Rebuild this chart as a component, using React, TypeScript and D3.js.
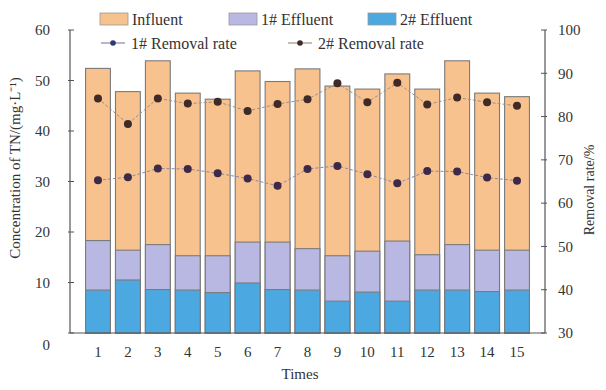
import React, { useRef, useEffect } from "react";
import * as d3 from "d3";

const times = ["1", "2", "3", "4", "5", "6", "7", "8", "9", "10", "11", "12", "13", "14", "15"];
const influent = [52.4, 47.8, 53.9, 47.5, 46.3, 51.9, 49.8, 52.3, 48.9, 48.3, 51.3, 48.3, 53.9, 47.5, 46.8];
const effluent1 = [18.3, 16.4, 17.5, 15.3, 15.3, 18.0, 18.0, 16.7, 15.3, 16.2, 18.2, 15.5, 17.5, 16.4, 16.4];
const effluent2 = [8.5, 10.5, 8.6, 8.5, 8.0, 9.9, 8.6, 8.5, 6.3, 8.1, 6.3, 8.5, 8.5, 8.2, 8.5];
const removal1 = [65.3, 66.0, 68.0, 67.9, 66.9, 65.7, 64.0, 67.9, 68.6, 66.7, 64.6, 67.4, 67.3, 65.9, 65.2];
const removal2 = [84.2, 78.3, 84.2, 83.0, 83.4, 81.3, 82.9, 84.0, 87.7, 83.3, 87.8, 82.8, 84.4, 83.3, 82.5];
const leftTicks = [0, 10, 20, 30, 40, 50, 60];
const rightTicks = [30, 40, 50, 60, 70, 80, 90, 100];

const W = 606;
const H = 390;
const FONT = "'Liberation Serif', 'Times New Roman', serif";

const App = () => {
  const ref = useRef<SVGSVGElement>(null);

  useEffect(() => {
    const svg = d3.select(ref.current);
    svg.selectAll("*").remove();

    const left = 70, right = 545, top = 30, bottom = 333;

    const x = d3.scaleBand().domain(times).range([left, right]).paddingInner(0.17).paddingOuter(0.52);
    const y = d3.scaleLinear().domain([0, 60]).range([bottom, top]);
    const y2 = d3.scaleLinear().domain([30, 100]).range([bottom, top]);

    const series = [
      { name: "Influent", values: influent, color: "#F8C28E" },
      { name: "1# Effluent", values: effluent1, color: "#B9B8E2" },
      { name: "2# Effluent", values: effluent2, color: "#4CA8E0" },
    ];

    // overlapping bars, tallest first
    series.forEach((s) => {
      svg
        .append("g")
        .selectAll("rect")
        .data(s.values)
        .join("rect")
        .attr("x", (_d, i) => x(times[i])!)
        .attr("y", (d) => y(d))
        .attr("width", x.bandwidth())
        .attr("height", (d) => y(0) - y(d))
        .attr("fill", s.color)
        .attr("stroke", "#7a7a7a")
        .attr("stroke-width", 1.1);
    });

    // removal rate lines
    const lines = [
      { values: removal2, line: "#9a8f8a", dot: "#3e2a26" },
      { values: removal1, line: "#8c86a8", dot: "#3c2a48" },
    ];
    lines.forEach((l) => {
      const gen = d3
        .line<number>()
        .x((_d, i) => x(times[i])! + x.bandwidth() / 2)
        .y((d) => y2(d));
      svg
        .append("path")
        .attr("d", gen(l.values))
        .attr("fill", "none")
        .attr("stroke", l.line)
        .attr("stroke-width", 1)
        .attr("stroke-dasharray", "3,2");
      svg
        .append("g")
        .selectAll("circle")
        .data(l.values)
        .join("circle")
        .attr("cx", (_d, i) => x(times[i])! + x.bandwidth() / 2)
        .attr("cy", (d) => y2(d))
        .attr("r", 4)
        .attr("fill", l.dot);
    });

    const axisColor = "#555";

    // x axis line
    svg.append("line").attr("x1", left).attr("x2", right).attr("y1", bottom).attr("y2", bottom)
      .attr("stroke", axisColor).attr("stroke-width", 1.2);

    // left axis
    svg.append("line").attr("x1", left).attr("x2", left).attr("y1", top).attr("y2", bottom)
      .attr("stroke", axisColor).attr("stroke-width", 1.2);
    const gl = svg.append("g");
    gl.selectAll("line").data(leftTicks).join("line")
      .attr("x1", left - 2).attr("x2", left + 4).attr("y1", (d) => y(d)).attr("y2", (d) => y(d))
      .attr("stroke", axisColor);
    gl.selectAll("text").data(leftTicks).join("text")
      .attr("x", 50)
      .attr("y", (d) => (d === 0 ? y(d) + 12 : y(d)))
      .attr("dy", "0.35em")
      .attr("text-anchor", "end")
      .attr("font-family", FONT).attr("font-size", 15).attr("fill", "#333")
      .text((d) => d);

    // right axis
    svg.append("line").attr("x1", right).attr("x2", right).attr("y1", top).attr("y2", bottom)
      .attr("stroke", axisColor).attr("stroke-width", 1.2);
    const gr = svg.append("g");
    gr.selectAll("line").data(rightTicks).join("line")
      .attr("x1", right - 4).attr("x2", right + 2).attr("y1", (d) => y2(d)).attr("y2", (d) => y2(d))
      .attr("stroke", axisColor);
    gr.selectAll("text").data(rightTicks).join("text")
      .attr("x", 558)
      .attr("y", (d) => y2(d))
      .attr("dy", "0.35em")
      .attr("font-family", FONT).attr("font-size", 15).attr("fill", "#333")
      .text((d) => d);

    // x tick labels
    svg.append("g").selectAll("text").data(times).join("text")
      .attr("x", (d) => x(d)! + x.bandwidth() / 2)
      .attr("y", 352)
      .attr("dy", "0.35em")
      .attr("text-anchor", "middle")
      .attr("font-family", FONT).attr("font-size", 15).attr("fill", "#333")
      .text((d) => d);

    // axis titles
    svg.append("text")
      .attr("x", 300).attr("y", 379).attr("text-anchor", "middle")
      .attr("font-family", FONT).attr("font-size", 15).attr("fill", "#333")
      .text("Times");
    svg.append("text")
      .attr("transform", `translate(20,168) rotate(-90)`)
      .attr("text-anchor", "middle")
      .attr("font-family", FONT).attr("font-size", 15).attr("fill", "#333")
      .text("Concentration of TN/(mg·L⁻¹)");
    svg.append("text")
      .attr("transform", `translate(594,190) rotate(-90)`)
      .attr("text-anchor", "middle")
      .attr("font-family", FONT).attr("font-size", 14).attr("fill", "#333")
      .text("Removal rate/%");

    // legend
    const lg = svg.append("g").attr("font-family", FONT).attr("font-size", 16).attr("fill", "#333");
    const swX = [100, 229, 368];
    series.forEach((s, i) => {
      lg.append("rect").attr("x", swX[i]).attr("y", 13).attr("width", 28).attr("height", 12)
        .attr("fill", s.color).attr("stroke", "#9a9a9a").attr("stroke-width", 0.8);
      lg.append("text").attr("x", swX[i] + 32).attr("y", 19).attr("dy", "0.35em").text(s.name);
    });
    const lineLegend = [
      { name: "1# Removal rate", x0: 101, dot: "#2d3a7a", line: "#8c86a8" },
      { name: "2# Removal rate", x0: 288, dot: "#3e2a26", line: "#9a8f8a" },
    ];
    lineLegend.forEach((l) => {
      lg.append("line").attr("x1", l.x0).attr("x2", l.x0 + 24).attr("y1", 43).attr("y2", 43)
        .attr("stroke", l.line).attr("stroke-width", 1.2);
      lg.append("circle").attr("cx", l.x0 + 12).attr("cy", 43).attr("r", 2.8).attr("fill", l.dot);
      lg.append("text").attr("x", l.x0 + 30).attr("y", 43).attr("dy", "0.35em").text(l.name);
    });
  }, []);

  return <svg ref={ref} width={W} height={H} style={{ display: "block", margin: "-8px", background: "#fff" }} />;
};

export default App;
